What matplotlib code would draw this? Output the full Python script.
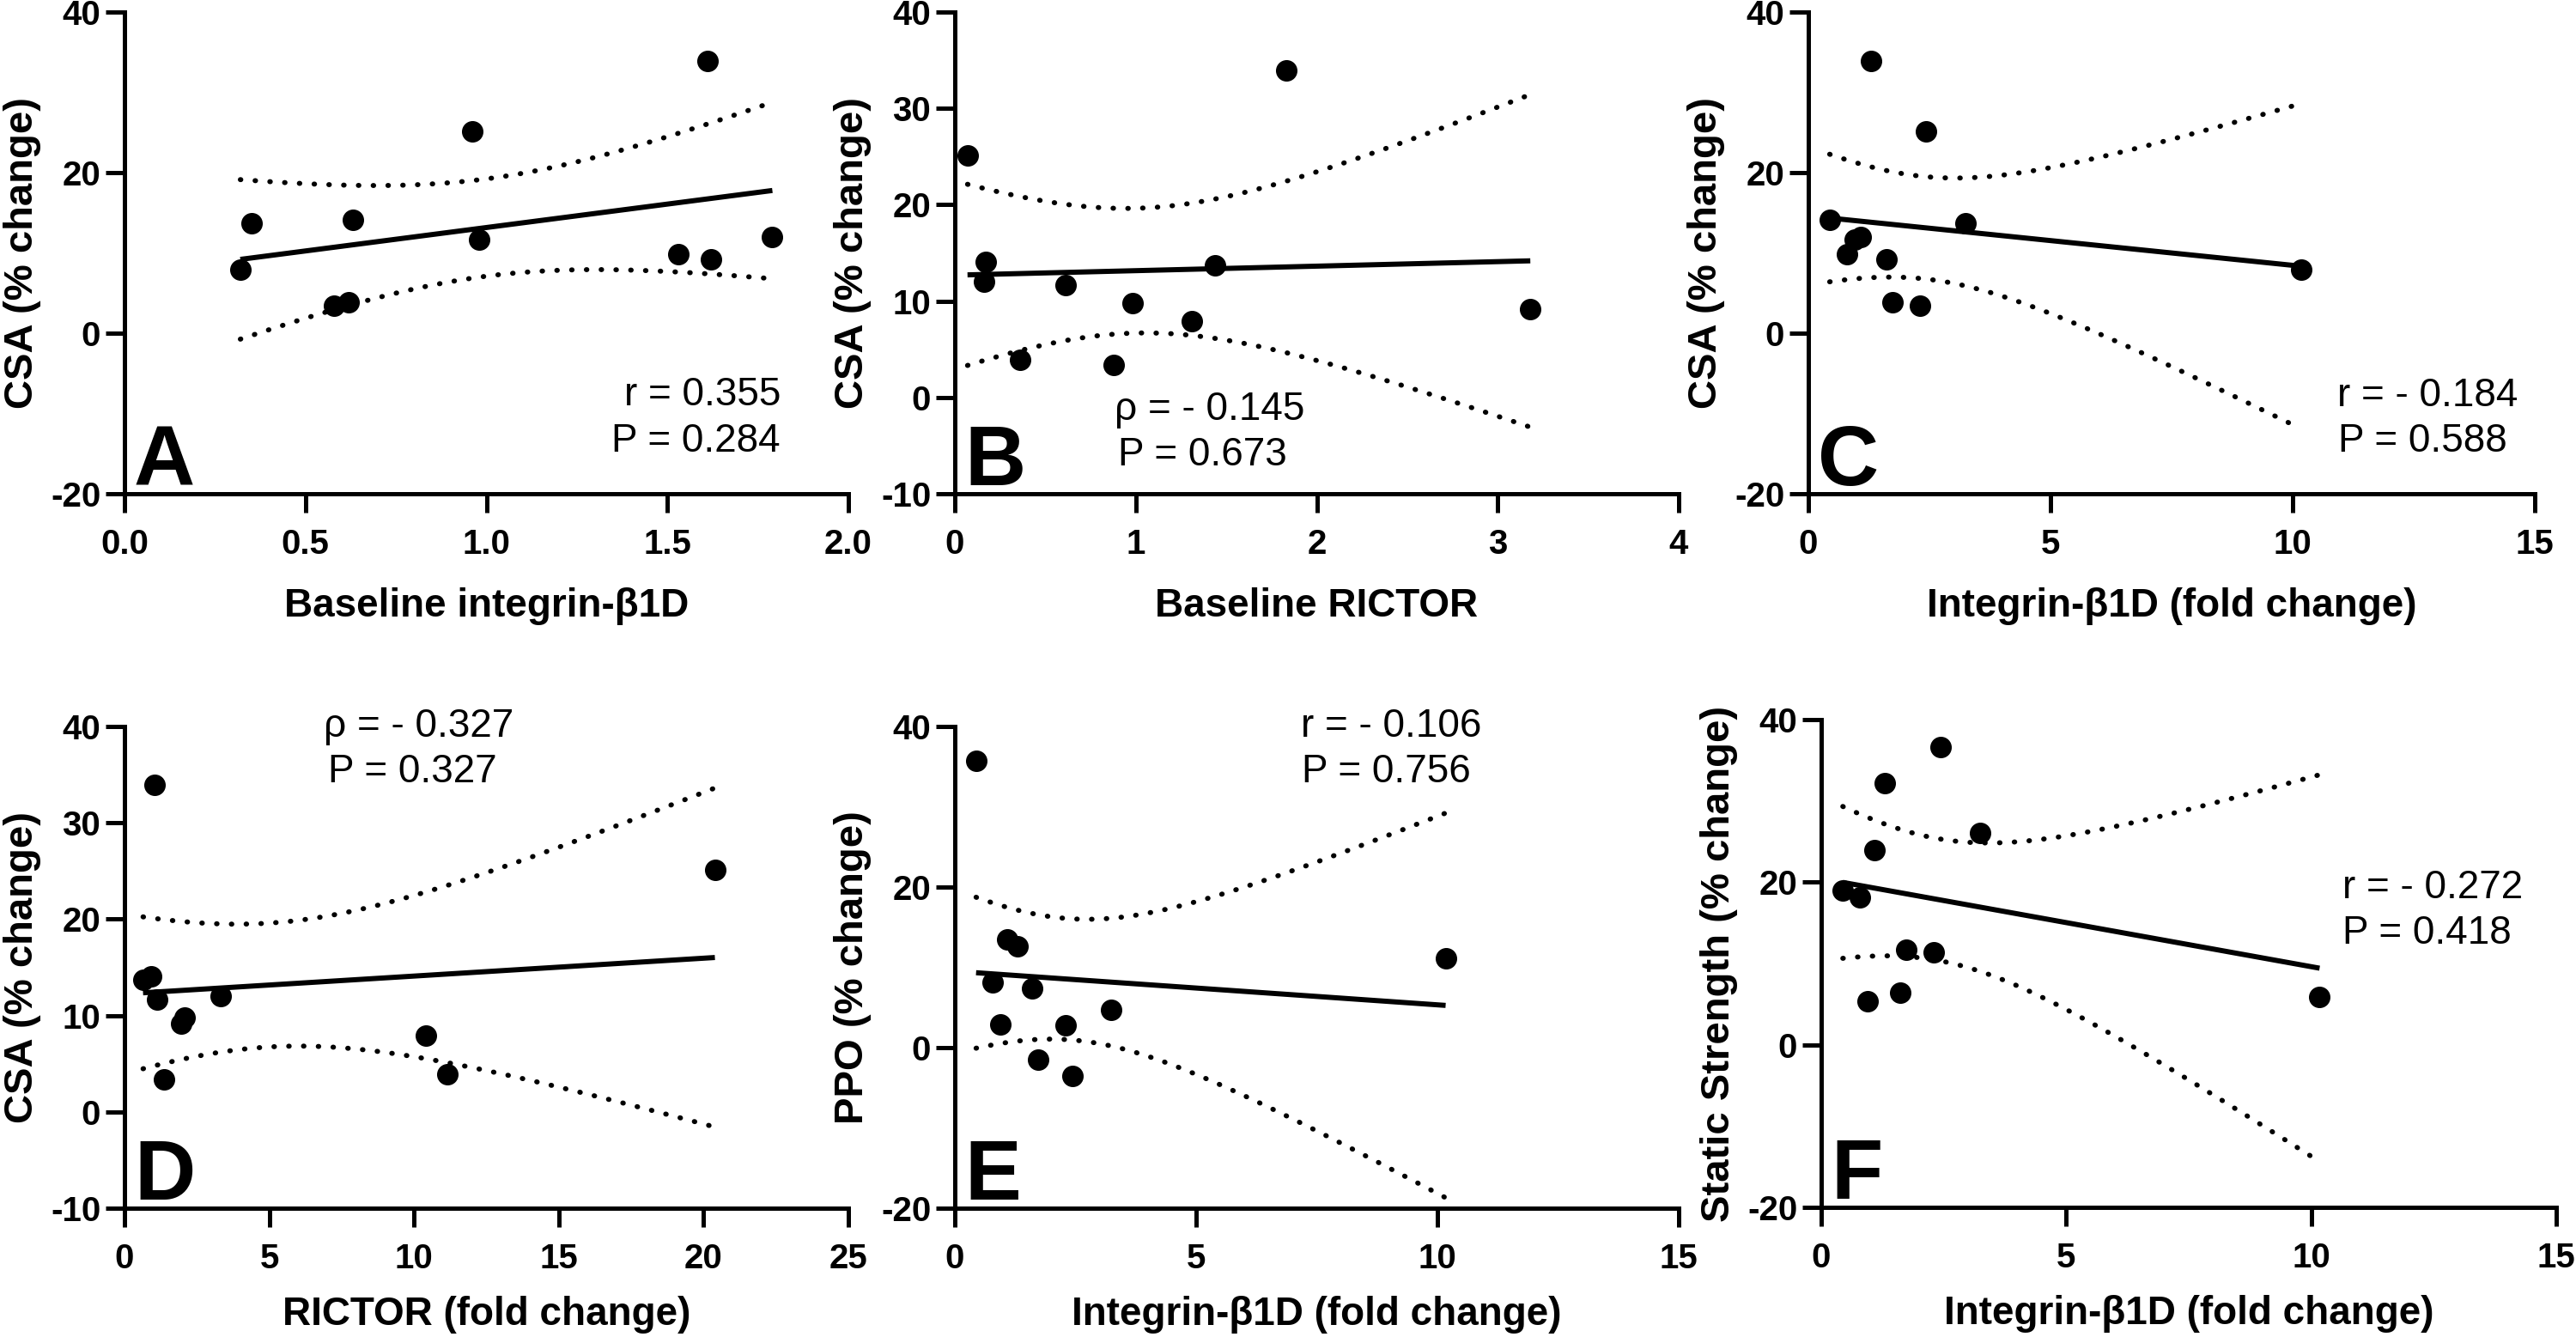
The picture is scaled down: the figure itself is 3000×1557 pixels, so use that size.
import numpy as np
import matplotlib
matplotlib.use("Agg")
import matplotlib.pyplot as plt
import matplotlib.transforms as mtransforms
from matplotlib.ticker import FormatStrFormatter

plt.rcParams['font.family'] = ['Liberation Sans', 'DejaVu Sans']
plt.rcParams['axes.unicode_minus'] = False

# --- data (11 participants) ---
baseline_itgb1d = [0.32, 0.35, 0.58, 0.62, 0.63, 0.96, 0.98, 1.53, 1.61, 1.62, 1.79]
csa_a = [7.9, 13.7, 3.4, 3.9, 14.1, 25.1, 11.7, 9.8, 33.9, 9.2, 12.0]

baseline_rictor = [0.07, 0.16, 0.17, 0.36, 0.61, 0.88, 0.98, 1.31, 1.44, 1.83, 3.18]
csa_b = [25.1, 12.0, 14.1, 3.9, 11.7, 3.4, 9.8, 7.9, 13.7, 33.9, 9.2]

itgb1d_fold = [0.44, 0.79, 0.95, 1.09, 1.30, 1.61, 1.73, 2.30, 2.43, 3.24, 10.17]
csa_c = [14.1, 9.8, 11.7, 12.0, 33.9, 9.2, 3.9, 3.4, 25.1, 13.7, 7.9]

rictor_fold = [0.64, 0.92, 1.04, 1.14, 1.36, 1.96, 2.08, 3.31, 10.40, 11.16, 20.39]
csa_d = [13.7, 14.1, 33.9, 11.7, 3.4, 9.2, 9.8, 12.0, 7.9, 3.9, 25.1]

ppo_e = [35.7, 8.1, 2.9, 13.5, 12.6, 7.4, -1.5, 2.75, -3.5, 4.7, 11.1]
strength_f = [19.0, 18.1, 5.4, 23.9, 32.2, 6.4, 11.7, 11.4, 36.6, 26.1, 5.9]

stats_a = ["r = 0.355", "P = 0.284"]
stats_b = ["ρ = - 0.145", "P = 0.673"]
stats_c = ["r = - 0.184", "P = 0.588"]
stats_d = ["ρ = - 0.327", "P = 0.327"]
stats_e = ["r = - 0.106", "P = 0.756"]
stats_f = ["r = - 0.272", "P = 0.418"]

T_CRIT = 2.262  # t(0.975, df=9)

W, H = 3000, 1557
fig = plt.figure(figsize=(W / 100, H / 100), dpi=100)


def px_rect(l, t, r, b):
    return [l / W, 1 - b / H, (r - l) / W, (b - t) / H]


def fit_band(x, y):
    x = np.asarray(x, float)
    y = np.asarray(y, float)
    n = len(x)
    slope, icpt = np.polyfit(x, y, 1)
    xs = np.linspace(x.min(), x.max(), 300)
    yhat = icpt + slope * xs
    resid = y - (icpt + slope * x)
    s = np.sqrt(np.sum(resid ** 2) / (n - 2))
    sxx = np.sum((x - x.mean()) ** 2)
    se = s * np.sqrt(1 / n + (xs - x.mean()) ** 2 / sxx)
    return xs, yhat, yhat - T_CRIT * se, yhat + T_CRIT * se


panels = [
    dict(rect=(145, 14, 988, 575), x=baseline_itgb1d, y=csa_a, xlim=(0, 2), xstep=0.5,
         ylim=(-20, 40), ystep=20, xfmt='%.1f', xlabel='Baseline integrin-β1D',
         ylabel='CSA (% change)', letter='A', stats=stats_a,
         spos=[(909, 472), (909, 526)], ha='right', xlpad=22),
    dict(rect=(1112, 14, 1955, 575), x=baseline_rictor, y=csa_b, xlim=(0, 4), xstep=1,
         ylim=(-10, 40), ystep=10, xfmt='%d', xlabel='Baseline RICTOR',
         ylabel='CSA (% change)', letter='B', stats=stats_b,
         spos=[(1298, 489), (1302, 542)], ha='left', xlpad=22),
    dict(rect=(2106, 14, 2952, 575), x=itgb1d_fold, y=csa_c, xlim=(0, 15), xstep=5,
         ylim=(-20, 40), ystep=20, xfmt='%d', xlabel='Integrin-β1D (fold change)',
         ylabel='CSA (% change)', letter='C', stats=stats_c,
         spos=[(2722, 473), (2723, 526)], ha='left', xlpad=22),
    dict(rect=(145, 846, 988, 1407), x=rictor_fold, y=csa_d, xlim=(0, 25), xstep=5,
         ylim=(-10, 40), ystep=10, xfmt='%d', xlabel='RICTOR (fold change)',
         ylabel='CSA (% change)', letter='D', stats=stats_d,
         spos=[(377, 858), (382, 911)], ha='left', xlpad=17),
    dict(rect=(1112, 846, 1955, 1407), x=itgb1d_fold, y=ppo_e, xlim=(0, 15), xstep=5,
         ylim=(-20, 40), ystep=20, xfmt='%d', xlabel='Integrin-β1D (fold change)',
         ylabel='PPO (% change)', letter='E', stats=stats_e,
         spos=[(1515, 858), (1516, 911)], ha='left', xlpad=17),
    dict(rect=(2121, 838, 2977, 1406), x=itgb1d_fold, y=strength_f, xlim=(0, 15), xstep=5,
         ylim=(-20, 40), ystep=20, xfmt='%d', xlabel='Integrin-β1D (fold change)',
         ylabel='Static Strength (% change)', letter='F', stats=stats_f,
         spos=[(2728, 1046), (2728, 1099)], ha='left', xlpad=17),
]

LW = 3.6
for p in panels:
    ax = fig.add_axes(px_rect(*p['rect']))
    xs, yhat, lo, hi = fit_band(p['x'], p['y'])
    ax.plot(xs, yhat, color='black', lw=4.3, solid_capstyle='butt', zorder=2)
    for band in (lo, hi):
        ax.plot(xs, band, color='black', lw=4.2, ls=(0, (0.1, 2.85)),
                dash_capstyle='round', zorder=2)
    ax.plot(p['x'], p['y'], 'o', ms=17, color='black', mec='black', zorder=3, clip_on=False)

    ax.set_xlim(*p['xlim'])
    ax.set_ylim(*p['ylim'])
    ax.set_xticks(np.arange(p['xlim'][0], p['xlim'][1] + 1e-9, p['xstep']))
    ax.set_yticks(np.arange(p['ylim'][0], p['ylim'][1] + 1e-9, p['ystep']))
    ax.xaxis.set_major_formatter(FormatStrFormatter(p['xfmt']))
    ax.yaxis.set_major_formatter(FormatStrFormatter('%d'))

    for side in ('top', 'right'):
        ax.spines[side].set_visible(False)
    for side in ('left', 'bottom'):
        ax.spines[side].set_linewidth(LW)
    ax.tick_params(axis='both', length=16, width=LW, labelsize=29)
    ax.tick_params(axis='x', pad=13)
    ax.tick_params(axis='y', pad=4)
    for lab in ax.get_xticklabels() + ax.get_yticklabels():
        lab.set_fontweight('bold')

    ax.set_xlabel(p['xlabel'], fontsize=33, fontweight='bold', labelpad=p['xlpad'])
    ax.set_ylabel(p['ylabel'], fontsize=34, fontweight='bold', labelpad=8)

    off = mtransforms.ScaledTranslation(11 / 100, 10 / 100, fig.dpi_scale_trans)
    ax.text(0, 0, p['letter'], transform=ax.transAxes + off, fontsize=71,
            fontweight='bold', ha='left', va='baseline')

    for txt, (sx, sy) in zip(p['stats'], p['spos']):
        fig.text(sx / W, 1 - sy / H, txt, fontsize=33, ha=p['ha'], va='baseline')

fig.savefig('out.png', dpi=100)
